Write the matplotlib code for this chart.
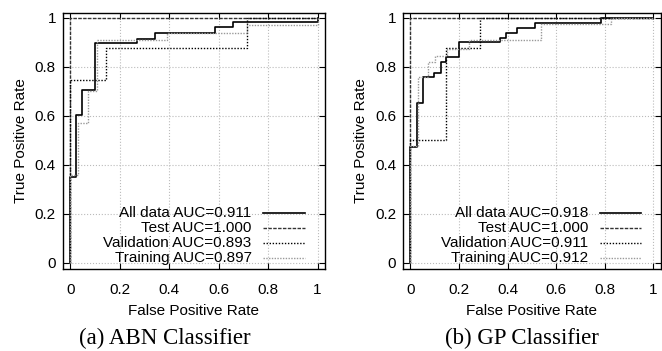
import matplotlib.pyplot as plt
from matplotlib.lines import Line2D

plt.rcParams['font.family'] = ['Liberation Sans', 'DejaVu Sans']

# ROC points (false positive rate, true positive rate) for each classifier
abn_all_fpr = [0, 0, 0.024, 0.024, 0.049, 0.049, 0.10, 0.10, 0.27, 0.27, 0.344, 0.344, 0.587, 0.587, 0.659, 0.659, 1, 1]
abn_all_tpr = [0, 0.352, 0.352, 0.603, 0.603, 0.706, 0.706, 0.897, 0.897, 0.913, 0.913, 0.937, 0.937, 0.962, 0.962, 0.981, 0.981, 1]
abn_test_fpr = [0, 0, 1]
abn_test_tpr = [0, 1, 1]
abn_val_fpr = [0, 0, 0.143, 0.143, 0.715, 0.715, 1]
abn_val_tpr = [0, 0.747, 0.747, 0.875, 0.875, 1, 1]
abn_train_fpr = [0, 0, 0.03, 0.03, 0.071, 0.071, 0.108, 0.108, 0.39, 0.39, 0.715, 0.715, 1, 1]
abn_train_tpr = [0, 0.36, 0.36, 0.57, 0.57, 0.70, 0.70, 0.907, 0.907, 0.937, 0.937, 0.971, 0.971, 1]

gp_all_fpr = [0, 0, 0.027, 0.027, 0.05, 0.05, 0.099, 0.099, 0.126, 0.126, 0.147, 0.147, 0.199, 0.199, 0.369, 0.369, 0.392, 0.392, 0.44, 0.44, 0.514, 0.514, 0.784, 0.784, 1]
gp_all_tpr = [0, 0.474, 0.474, 0.652, 0.652, 0.757, 0.757, 0.774, 0.774, 0.818, 0.818, 0.838, 0.838, 0.899, 0.899, 0.916, 0.916, 0.939, 0.939, 0.957, 0.957, 0.98, 0.98, 1, 1]
gp_test_fpr = [0, 0, 1]
gp_test_tpr = [0, 1, 1]
gp_val_fpr = [0, 0, 0.145, 0.145, 0.288, 0.288, 1]
gp_val_tpr = [0, 0.5, 0.5, 0.876, 0.876, 1, 1]
gp_train_fpr = [0, 0, 0.031, 0.031, 0.072, 0.072, 0.101, 0.101, 0.149, 0.149, 0.24, 0.24, 0.537, 0.537, 0.824, 0.824, 1]
gp_train_tpr = [0, 0.475, 0.475, 0.757, 0.757, 0.818, 0.818, 0.845, 0.845, 0.872, 0.872, 0.908, 0.908, 0.973, 0.973, 1, 1]

abn_auc = ['0.911', '1.000', '0.893', '0.897']
gp_auc = ['0.918', '1.000', '0.911', '0.912']
names = ['All data', 'Test', 'Validation', 'Training']
captions = ['(a) ABN Classifier', '(b) GP Classifier']
ticks = [0, 0.2, 0.4, 0.6, 0.8, 1]
tick_labels = ['0', '0.2', '0.4', '0.6', '0.8', '1']

fig = plt.figure(figsize=(6.62, 3.51), dpi=100)
ax1 = fig.add_axes([0.095, 0.234, 0.396, 0.729])
ax2 = fig.add_axes([0.609, 0.234, 0.389, 0.729])

panels = [
    (ax1, [(abn_all_fpr, abn_all_tpr), (abn_test_fpr, abn_test_tpr),
           (abn_val_fpr, abn_val_tpr), (abn_train_fpr, abn_train_tpr)], abn_auc),
    (ax2, [(gp_all_fpr, gp_all_tpr), (gp_test_fpr, gp_test_tpr),
           (gp_val_fpr, gp_val_tpr), (gp_train_fpr, gp_train_tpr)], gp_auc),
]
styles = [
    dict(color='black', lw=1.2, ls='-'),
    dict(color='#333333', lw=1.0, ls=(0, (2.5, 1))),
    dict(color='black', lw=1.0, ls=(0, (1, 1.2))),
    dict(color='#999999', lw=1.0, ls=(0, (1, 1))),
]
# legend rows (axes fraction), right-aligned text like gnuplot
legend_y = [0.22, 0.161, 0.103, 0.042]

for ax, curves, aucs in panels:
    for (fpr, tpr), st, name, auc, ly in zip(curves, styles, names, aucs, legend_y):
        ax.plot(fpr, tpr, **st)
        ax.text(0.72, ly, f'{name} AUC={auc}', transform=ax.transAxes,
                ha='right', va='center', fontsize=11)
        ax.add_line(Line2D([0.765, 0.925], [ly, ly], transform=ax.transAxes, **st))
    ax.set_xlim(-0.03, 1.03)
    ax.set_ylim(-0.024, 1.019)
    ax.set_xticks(ticks)
    ax.set_xticklabels(tick_labels)
    ax.set_yticks(ticks)
    ax.set_yticklabels(tick_labels)
    ax.tick_params(direction='in', top=True, right=True, length=4, labelsize=11)
    ax.tick_params(axis='x', pad=10)
    ax.tick_params(axis='y', pad=5)
    ax.grid(True, color='#bbbbbb', ls=':', lw=0.8)
    for s in ax.spines.values():
        s.set_linewidth(1.0)
    ax.set_xlabel('False Positive Rate', fontsize=11, labelpad=5)
    ax.set_ylabel('True Positive Rate', fontsize=11, labelpad=5)

fig.text(0.2485, 0.02, captions[0], family='Liberation Serif', fontsize=16.5, ha='center')
fig.text(0.788, 0.02, captions[1], family='Liberation Serif', fontsize=16.5, ha='center')

fig.savefig('out.png', dpi=100)
